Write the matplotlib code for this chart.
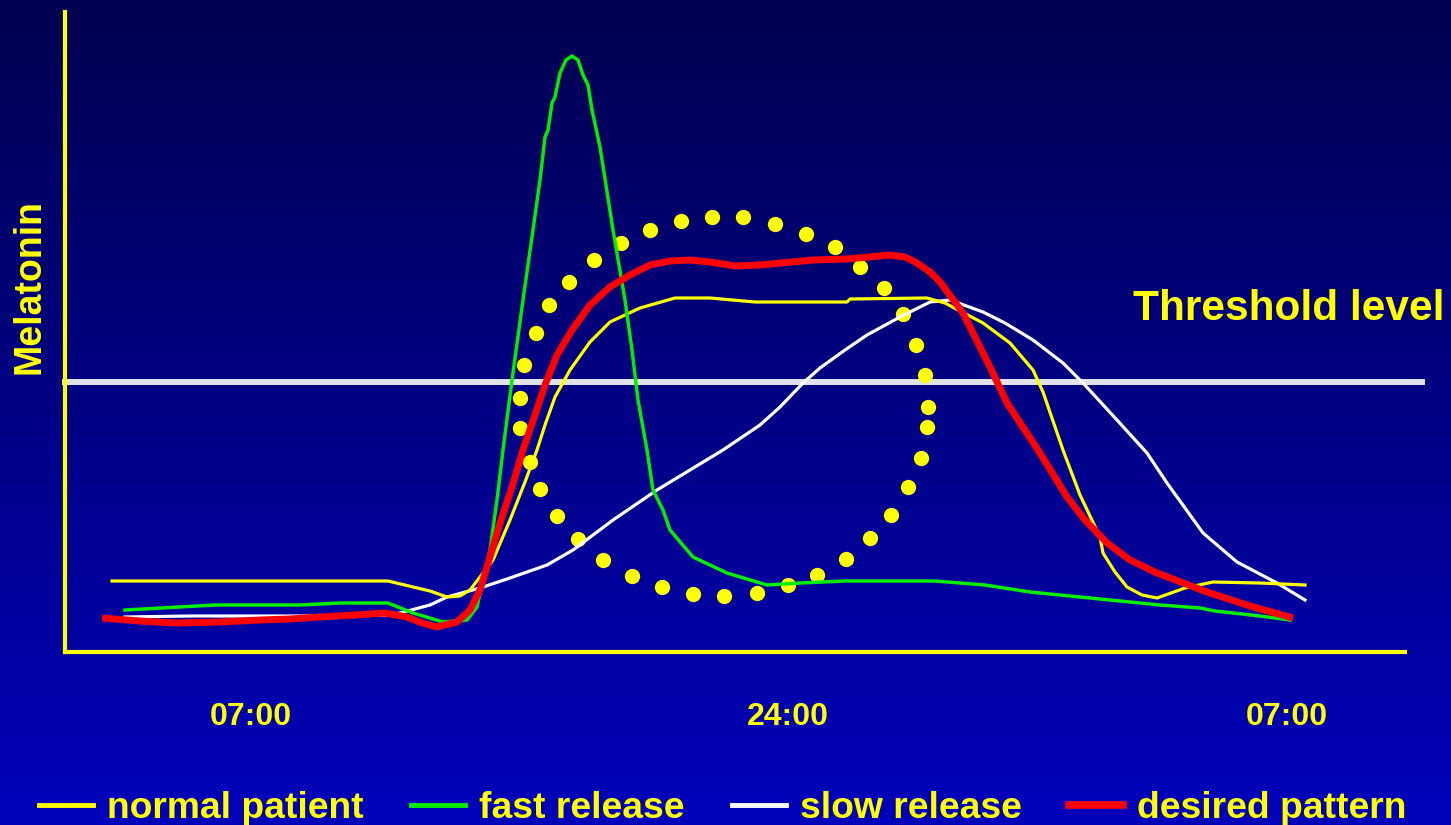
import numpy as np
import matplotlib.pyplot as plt
from matplotlib.lines import Line2D

plt.rcParams['font.family'] = ['Liberation Sans', 'DejaVu Sans']
plt.rcParams['font.weight'] = 'bold'

# arbitrary time units along x, arbitrary melatonin units along y
normal_x = [47, 140, 230, 323, 348, 365, 382, 395, 405, 415, 428, 445, 460, 472, 480, 490, 505, 525,
            545, 575, 610, 645, 690, 735, 782, 785, 862, 880, 895, 918, 945, 968, 978, 998, 1015, 1035,
            1038, 1050, 1062, 1077, 1092, 1120, 1148, 1195, 1240]
normal_y = [71, 71, 71, 71, 65, 61, 55, 56, 62, 75, 92, 132, 170, 202, 227, 255, 282, 310,
            330, 344, 354, 354, 350, 350, 350, 353, 354, 349, 341, 329, 309, 282, 260, 202, 157, 115,
            99, 80, 65, 57, 54, 64, 70, 69, 67]

fast_x = [60, 150, 235, 275, 323, 348, 378, 402, 412, 415, 425, 432, 438, 447, 458, 468, 475, 480,
          483, 487, 490, 495, 501, 507, 513, 518, 523, 527, 535, 548, 560, 567, 573, 582, 588, 598,
          605, 628, 662, 702, 735, 780, 870, 920, 965, 1015, 1055, 1095, 1135, 1150, 1195, 1225]
fast_y = [42, 47, 47, 49, 49, 39, 30, 32, 45, 59, 102, 152, 202, 272, 352, 422, 472, 515,
          522, 549, 555, 579, 592, 596, 592, 577, 567, 542, 505, 422, 352, 302, 252, 202, 162, 142,
          122, 95, 79, 67, 69, 71, 71, 67, 60, 55, 51, 47, 44, 41, 36, 32]

slow_x = [60, 125, 235, 322, 335, 365, 382, 415, 445, 482, 508, 548, 592, 658, 695, 715, 738, 755,
          780, 802, 835, 865, 885, 918, 940, 968, 998, 1018, 1052, 1082, 1102, 1138, 1172, 1212, 1240]
slow_y = [35, 36, 36, 37, 39, 47, 55, 64, 74, 87, 102, 132, 162, 202, 227, 245, 269, 284,
          302, 317, 335, 350, 352, 340, 329, 312, 289, 269, 232, 199, 169, 119, 90, 69, 52]

desired_x = [37, 75, 110, 155, 195, 225, 255, 290, 320, 342, 357, 372, 392, 405, 415, 422, 435, 447,
             458, 470, 480, 492, 507, 525, 545, 565, 585, 605, 625, 645, 670, 695, 748, 782, 825, 840,
             852, 865, 875, 898, 925, 942, 975, 1002, 1020, 1042, 1065, 1092, 1142, 1185, 1228]
desired_y = [34, 31, 29, 30, 32, 33, 35, 37, 39, 35, 29, 25, 30, 42, 62, 85, 129, 165,
             202, 237, 267, 297, 322, 347, 365, 377, 387, 391, 392, 390, 386, 387, 392, 393, 397, 395,
             389, 380, 370, 339, 285, 249, 199, 155, 132, 109, 92, 79, 60, 46, 34]

dots_x = [616, 647, 678, 710, 741, 770, 795, 819, 838, 851, 860, 863, 862, 856, 843, 826, 805, 781,
          752, 723, 692, 659, 628, 597, 567, 538, 513, 492, 475, 465, 455, 455, 459, 471, 484, 504,
          529, 556, 585]
dots_y = [431, 435, 435, 428, 418, 405, 385, 364, 338, 307, 277, 245, 225, 194, 165, 137, 114, 93,
          77, 67, 59, 56, 58, 65, 76, 92, 113, 136, 163, 190, 224, 254, 287, 319, 347, 370,
          392, 409, 422]

threshold = 270
tick_pos = [186, 723, 1222]
tick_labels = ['07:00', '24:00', '07:00']

yellow = '#FFFF00'
fig = plt.figure(figsize=(14.51, 8.25), dpi=100)

# background gradient
bg = fig.add_axes([0, 0, 1, 1], zorder=-10)
grad = np.linspace(0, 1, 256).reshape(-1, 1)
top = np.array([2, 0, 80]) / 255
bottom = np.array([0, 0, 186]) / 255
img = top + (bottom - top) * grad[:, :, None]
bg.imshow(img, aspect='auto', extent=[0, 1, 0, 1])
bg.axis('off')

ax = fig.add_axes([65 / 1451, 173 / 825, 1340 / 1451, 640 / 825])
ax.set_facecolor('none')
ax.set_xlim(0, 1340)
ax.set_ylim(0, 640)

ax.plot([0, 1357], [threshold, threshold], color='#E2E2EA', lw=4.3, clip_on=False, zorder=1)

ax.plot(dots_x, dots_y, 'o', color=yellow, ms=11, mew=0, zorder=2)
ax.plot(slow_x, slow_y, color='white', lw=2.3, zorder=3)
ax.plot(normal_x, normal_y, color=yellow, lw=2.3, zorder=3)
ax.plot(fast_x, fast_y, color='#00EE00', lw=2.5, zorder=3)
ax.plot(desired_x, desired_y, color='#FF0000', lw=5, zorder=4, solid_capstyle='butt')

for s in ['top', 'right']:
    ax.spines[s].set_visible(False)
for s in ['left', 'bottom']:
    ax.spines[s].set_color(yellow)
    ax.spines[s].set_linewidth(3)

ax.set_yticks([])
ax.set_xticks(tick_pos)
ax.set_xticklabels(tick_labels, color=yellow, fontsize=23, fontweight='bold')
ax.tick_params(axis='x', length=0, pad=36)

ax.set_ylabel('Melatonin', color=yellow, fontsize=27, fontweight='bold', va='center')
ax.yaxis.set_label_coords(-35 / 1340, (652 - 286) / 640)

ax.text(1068, 343, 'Threshold level', color=yellow, fontsize=30.5, fontweight='bold',
        ha='left', va='center', clip_on=False)

handles = [Line2D([], [], color=yellow, lw=3.5),
           Line2D([], [], color='#00EE00', lw=3.5),
           Line2D([], [], color='white', lw=3.5),
           Line2D([], [], color='#FF0000', lw=5.5)]
labels = ['normal patient', 'fast release', 'slow release', 'desired pattern']
leg = fig.legend(handles, labels, loc='lower left', bbox_to_anchor=(13 / 1451, -27 / 825),
                 ncol=4, frameon=False, fontsize=26.8, handlelength=1.45, handletextpad=0.38,
                 columnspacing=1.27, borderpad=0.2)
for t in leg.get_texts():
    t.set_color(yellow)
    t.set_fontweight('bold')

plt.savefig('out.png', dpi=100)
